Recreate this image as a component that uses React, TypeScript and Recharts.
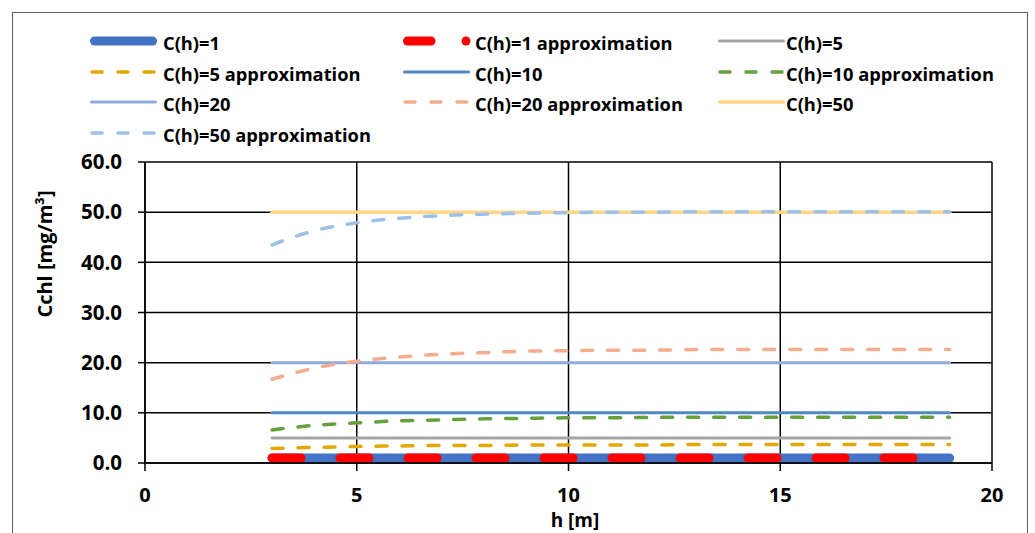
import React from 'react';
import { LineChart, Line, XAxis, YAxis, CartesianGrid, Legend } from 'recharts';

const hValues = [3, 4, 5, 6, 7, 8, 9, 10, 11, 12, 13, 14, 15, 16, 17, 18, 19];
const c1 = [1.0, 1.0, 1.0, 1.0, 1.0, 1.0, 1.0, 1.0, 1.0, 1.0, 1.0, 1.0, 1.0, 1.0, 1.0, 1.0, 1.0];
const c1Approx = [1.0, 1.0, 1.0, 1.0, 1.0, 1.0, 1.0, 1.0, 1.0, 1.0, 1.0, 1.0, 1.0, 1.0, 1.0, 1.0, 1.0];
const c5 = [5, 5, 5, 5, 5, 5, 5, 5, 5, 5, 5, 5, 5, 5, 5, 5, 5];
const c5Approx = [2.9, 3.1, 3.3, 3.4, 3.5, 3.5, 3.6, 3.6, 3.6, 3.6, 3.7, 3.7, 3.7, 3.7, 3.7, 3.7, 3.7];
const c10 = [10, 10, 10, 10, 10, 10, 10, 10, 10, 10, 10, 10, 10, 10, 10, 10, 10];
const c10Approx = [6.6, 7.5, 8.0, 8.4, 8.6, 8.8, 8.9, 9.0, 9.0, 9.1, 9.1, 9.1, 9.1, 9.1, 9.1, 9.1, 9.1];
const c20 = [20, 20, 20, 20, 20, 20, 20, 20, 20, 20, 20, 20, 20, 20, 20, 20, 20];
const c20Approx = [16.7, 18.9, 20.3, 21.1, 21.7, 22.0, 22.3, 22.4, 22.5, 22.5, 22.6, 22.6, 22.6, 22.6, 22.6, 22.6, 22.6];
const c50 = [50, 50, 50, 50, 50, 50, 50, 50, 50, 50, 50, 50, 50, 50, 50, 50, 50];
const c50Approx = [43.5, 46.3, 47.9, 48.8, 49.3, 49.6, 49.8, 49.9, 50.0, 50.0, 50.1, 50.1, 50.1, 50.1, 50.1, 50.1, 50.1];

const xTicks = [0, 5, 10, 15, 20];
const yTicks = [0, 10, 20, 30, 40, 50, 60];

const seriesNames = [
  'C(h)=1',
  'C(h)=1 approximation',
  'C(h)=5',
  'C(h)=5 approximation',
  'C(h)=10',
  'C(h)=10 approximation',
  'C(h)=20',
  'C(h)=20 approximation',
  'C(h)=50',
  'C(h)=50 approximation',
];
const seriesValues = [c1, c1Approx, c5, c5Approx, c10, c10Approx, c20, c20Approx, c50, c50Approx];

type Style = { color: string; width: number; dash?: string; kind: 'solid' | 'dash' | 'bigdash' };
const styles: Style[] = [
  { color: '#4472C4', width: 9, kind: 'solid' },
  { color: '#FF0000', width: 9, dash: '29 39', kind: 'bigdash' },
  { color: '#A5A5A5', width: 3, kind: 'solid' },
  { color: '#E2A800', width: 3.5, dash: '11 15', kind: 'dash' },
  { color: '#5088C2', width: 3, kind: 'solid' },
  { color: '#64A03C', width: 3.5, dash: '11 15', kind: 'dash' },
  { color: '#8FAADC', width: 3, kind: 'solid' },
  { color: '#F4AE8F', width: 3.5, dash: '11 15', kind: 'dash' },
  { color: '#FFD587', width: 3.5, kind: 'solid' },
  { color: '#9DC0E6', width: 3.5, dash: '11 15', kind: 'dash' },
];

const keys = seriesNames.map((_, i) => `s${i}`);
const data = hValues.map((h, j) => {
  const row: Record<string, number> = { h };
  seriesValues.forEach((arr, i) => {
    row[keys[i]] = arr[j];
  });
  return row;
});

const FONT = '"Open Sans", "Liberation Sans", sans-serif';

const colSample = [90, 403, 718];
const colText = [163, 475, 786];
const rowY = [41, 72, 102, 133];

const LegendContent = () => (
  <svg width={1035} height={150} style={{ display: 'block' }}>
    {seriesNames.map((name, i) => {
      const col = i % 3;
      const row = Math.floor(i / 3);
      const x0 = colSample[col];
      const y = rowY[row];
      const st = styles[i];
      let sample: React.ReactNode;
      if (st.kind === 'solid') {
        sample = (
          <line x1={x0 + st.width / 2} x2={x0 + 67 - st.width / 2} y1={y} y2={y} stroke={st.color}
            strokeWidth={st.width} strokeLinecap="round" />
        );
      } else if (st.kind === 'bigdash') {
        sample = (
          <g>
            <line x1={x0 + 4.5} x2={x0 + 28} y1={y} y2={y} stroke={st.color} strokeWidth={9} strokeLinecap="round" />
            <circle cx={x0 + 63} cy={y} r={4.5} fill={st.color} />
          </g>
        );
      } else {
        sample = (
          <line x1={x0 + 2} x2={x0 + 66} y1={y} y2={y} stroke={st.color} strokeWidth={st.width}
            strokeDasharray="10 16" strokeLinecap="round" />
        );
      }
      return (
        <g key={name}>
          {sample}
          <text x={colText[col]} y={y + 1} dominantBaseline="central" fontFamily={FONT} fontWeight={700}
            fontSize={18.3} fill="#000">{name}</text>
        </g>
      );
    })}
  </svg>
);

export default function App() {
  return (
    <div style={{ position: 'absolute', left: 0, top: 0, width: 1035, height: 533, overflow: 'hidden', background: '#fff' }}>
      <div style={{ position: 'absolute', left: 12, top: 12, width: 1016, height: 600, border: '1.5px solid #5f5f5f', boxSizing: 'border-box' }} />
      <div style={{ position: 'absolute', left: 0, top: 0 }}>
        <LineChart width={1035} height={533} data={data} margin={{ top: 162, right: 43, bottom: 0, left: 0 }}>
          <CartesianGrid stroke="#000" strokeWidth={1.5} horizontal vertical
            horizontalValues={yTicks} verticalValues={xTicks} />
          <XAxis dataKey="h" type="number" domain={[0, 20]} ticks={xTicks} height={70}
            stroke="#000" strokeWidth={1.5} tickSize={8} tickMargin={17}
            tick={{ fill: '#000', fontFamily: FONT, fontWeight: 700, fontSize: 20 }}
            label={{
              content: () => (
                <text x={575} y={520} textAnchor="middle" dominantBaseline="central" fontFamily={FONT}
                  fontWeight={700} fontSize={19} fill="#000">h [m]</text>
              ),
            }} />
          <YAxis type="number" domain={[0, 60]} ticks={yTicks} width={145}
            stroke="#000" strokeWidth={1.5} tickSize={7} tickMargin={16}
            tickFormatter={(v: number) => v.toFixed(1)}
            tick={{ fill: '#000', fontFamily: FONT, fontWeight: 700, fontSize: 20.5 }}
            label={{
              content: () => (
                <text x={44} y={254} textAnchor="middle" dominantBaseline="central" transform="rotate(-90 44 254)"
                  fontFamily={FONT} fontWeight={700} fontSize={20} fill="#000">Cchl [mg/m³]</text>
              ),
            }} />
          <Legend layout="horizontal" verticalAlign="middle" align="center"
            wrapperStyle={{ position: 'absolute', left: 0, top: 0, width: 1035, height: 150 }}
            content={() => <LegendContent />} />
          {keys.map((k, i) => (
            <Line key={k} dataKey={k} name={seriesNames[i]} type="monotone" stroke={styles[i].color}
              strokeWidth={styles[i].width} strokeDasharray={styles[i].dash} strokeLinecap="round"
              dot={false} activeDot={false} isAnimationActive={false} />
          ))}
        </LineChart>
      </div>
    </div>
  );
}
